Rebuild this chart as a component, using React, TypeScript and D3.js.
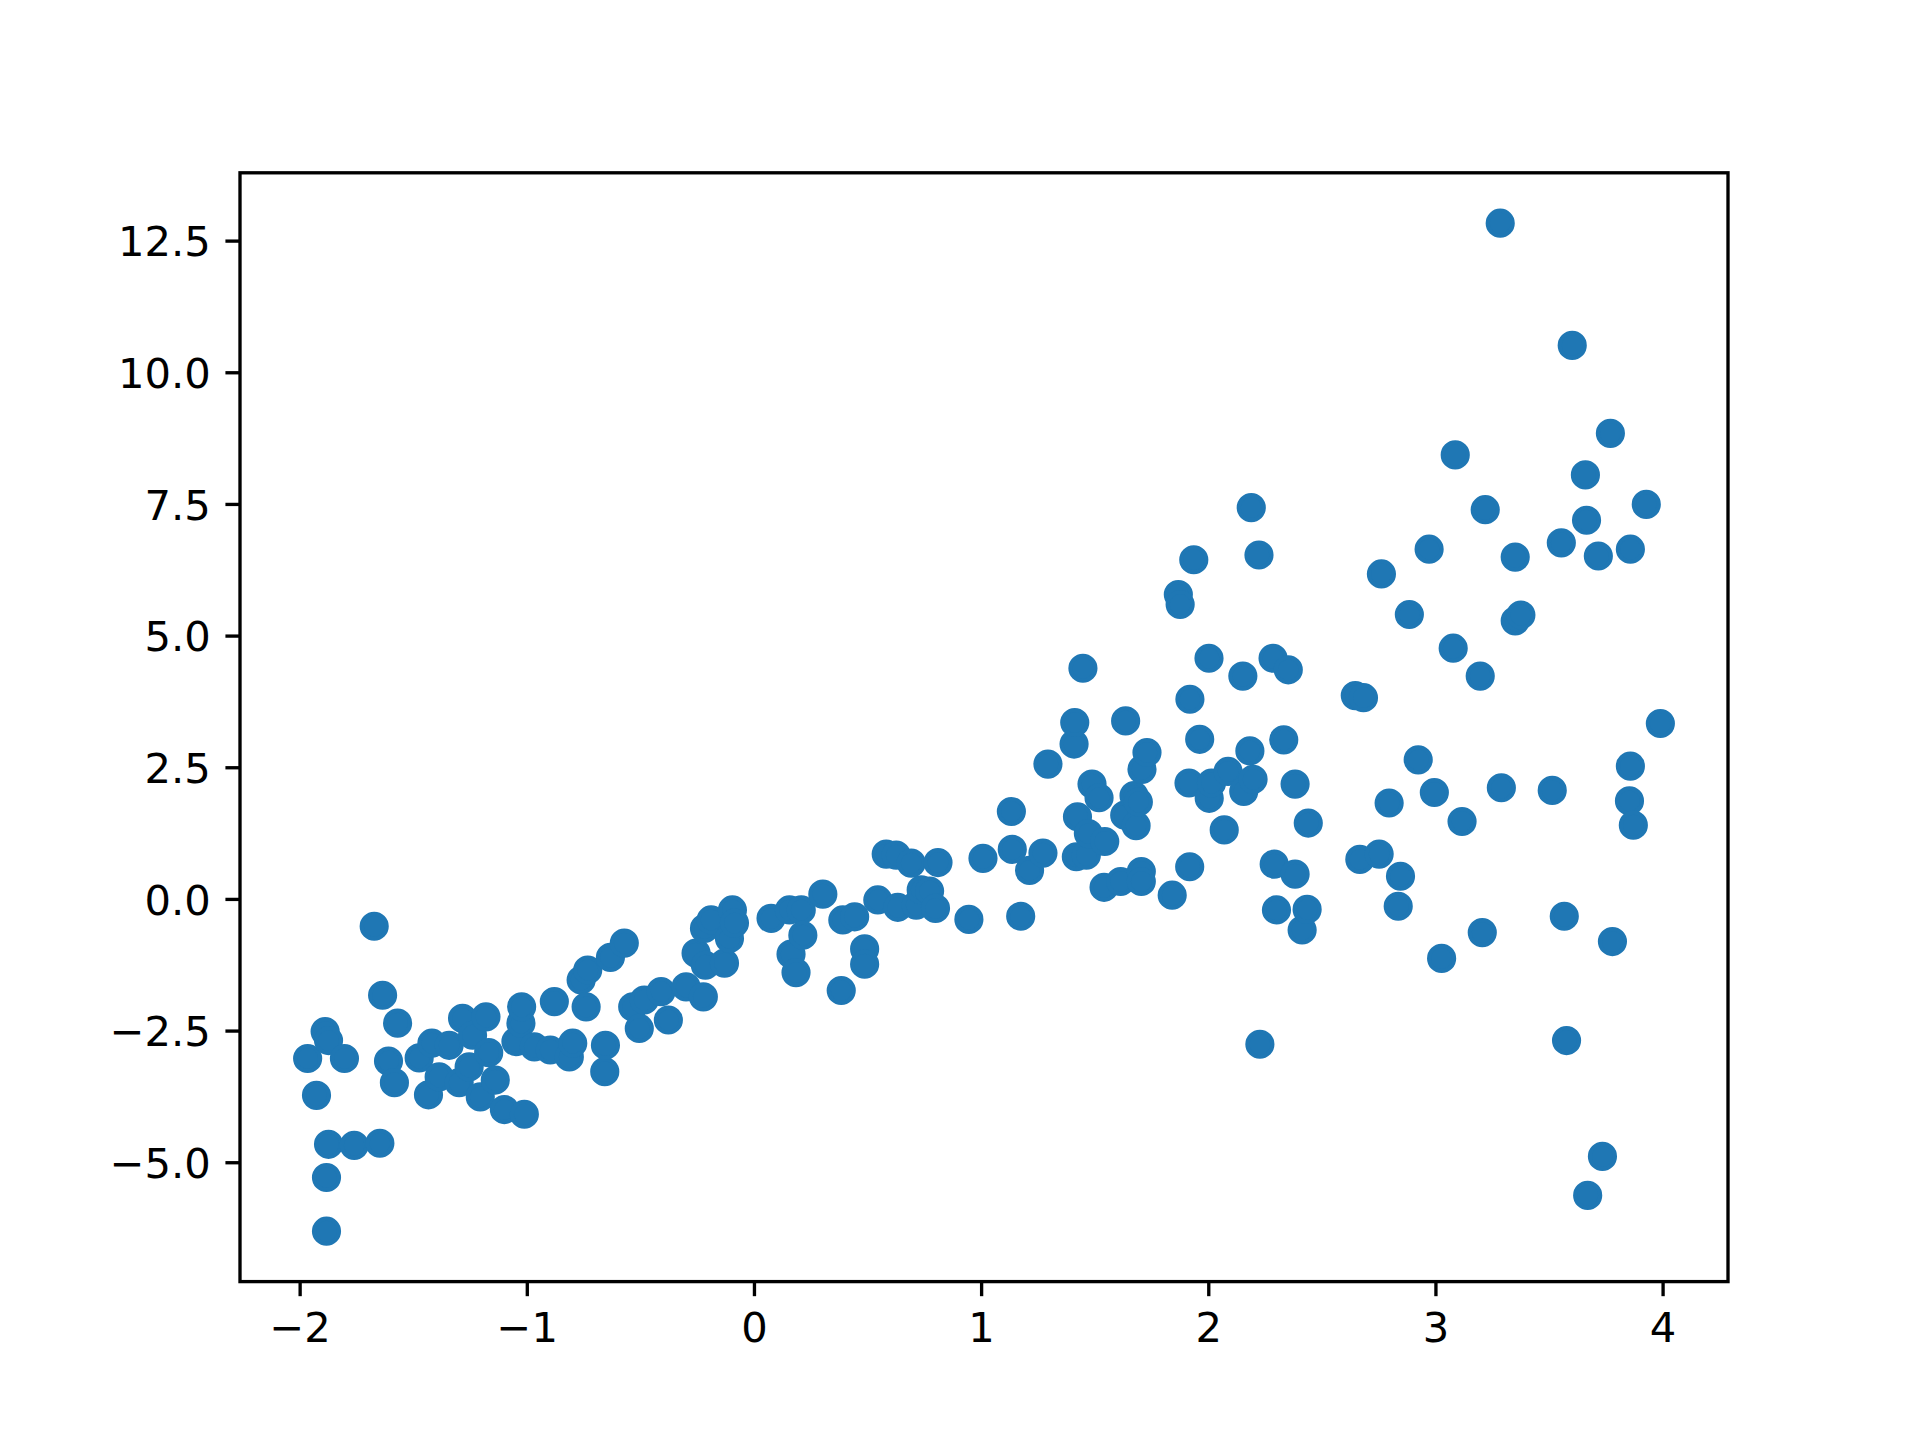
import React, { useEffect } from "react";
import * as d3 from "d3";

// values
const xs = [
  -1.967, -1.928, -1.890, -1.875, -1.875, -1.884, -1.884, -1.805, -1.762, -1.674,
  -1.649, -1.637, -1.611, -1.585, -1.571, -1.476, -1.435, -1.420, -1.388, -1.344,
  -1.300, -1.285, -1.256, -1.241, -1.207, -1.182, -1.170, -1.141, -1.101, -1.050,
  -1.028, -1.025, -1.013, -0.969, -0.899, -0.881, -0.815, -0.800, -0.763, -0.741,
  -0.734, -0.659, -0.656, -0.634, -0.573, -0.536, -0.507, -0.485, -0.411, -0.379,
  -0.301, -0.257, -0.225, -0.220, -0.216, -0.191, -0.132, -0.110, -0.097, -0.088,
  0.073, 0.154, 0.161, 0.183, 0.206, 0.213, 0.301, 0.382, 0.389, 0.441,
  0.485, 0.485, 0.543, 0.580, 0.624, 0.631, 0.690, 0.712, 0.734, 0.771,
  0.797, 0.808, 0.944, 1.006, 1.131, 1.135, 1.172, 1.211, 1.270, 1.292,
  1.407, 1.410, 1.417, 1.422, 1.446, 1.461, 1.470, 1.486, 1.517, 1.539,
  1.542, 1.612, 1.630, 1.634, 1.671, 1.680, 1.690, 1.703, 1.703, 1.706,
  1.728, 1.839, 1.866, 1.874, 1.913, 1.916, 1.917, 1.934, 1.960, 2.001,
  2.002, 2.012, 2.068, 2.085, 2.150, 2.154, 2.181, 2.187, 2.195, 2.221,
  2.225, 2.283, 2.288, 2.298, 2.330, 2.350, 2.380, 2.380, 2.411, 2.433,
  2.438, 2.645, 2.681, 2.665, 2.750, 2.760, 2.794, 2.834, 2.844, 2.883,
  2.922, 2.970, 2.993, 3.025, 3.076, 3.085, 3.115, 3.195, 3.204, 3.217,
  3.283, 3.288, 3.349, 3.374, 3.349, 3.512, 3.552, 3.565, 3.575, 3.600,
  3.658, 3.663, 3.668, 3.715, 3.733, 3.768, 3.777, 3.856, 3.856, 3.852,
  3.869, 3.926, 3.988,
];
const ys = [
  -3.02, -3.72, -2.51, -2.68, -4.65, -5.28, -6.30, -3.02, -4.67, -0.51,
  -4.63, -1.82, -3.07, -3.48, -2.35, -3.01, -3.71, -2.73, -3.37, -2.77,
  -3.48, -2.26, -3.18, -2.58, -3.75, -2.23, -2.91, -3.43, -3.99, -2.70,
  -2.35, -2.04, -4.08, -2.80, -2.86, -1.94, -2.99, -2.73, -1.53, -2.04,
  -1.34, -3.27, -2.77, -1.10, -0.83, -2.04, -2.45, -1.91, -1.75, -2.29,
  -1.66, -1.02, -1.85, -0.55, -1.25, -0.39, -1.21, -0.74, -0.20, -0.45,
  -0.36, -0.20, -1.04, -1.39, -0.20, -0.68, 0.10, -1.73, -0.39, -0.33,
  -0.94, -1.23, -0.01, 0.86, 0.84, -0.15, 0.69, -0.11, 0.18, 0.16,
  -0.17, 0.70, -0.38, 0.78, 1.67, 0.95, -0.32, 0.55, 0.88, 2.57,
  2.95, 3.36, 0.81, 1.57, 4.39, 0.84, 1.25, 2.19, 1.93, 0.23,
  1.10, 0.34, 1.60, 3.39, 1.97, 1.40, 1.85, 0.53, 0.34, 2.47,
  2.79, 0.08, 5.79, 5.60, 2.21, 0.62, 3.80, 6.45, 3.04, 4.58,
  1.92, 2.21, 1.32, 2.43, 4.24, 2.05, 2.82, 7.44, 2.28, 6.54,
  -2.75, 4.58, 0.67, -0.20, 3.03, 4.36, 2.19, 0.48, -0.58, -0.19,
  1.45, 3.87, 3.83, 0.76, 0.86, 6.18, 1.83, -0.13, 0.44, 5.41,
  2.65, 6.65, 2.03, -1.12, 4.77, 8.44, 1.48, 4.24, -0.63, 7.40,
  12.84, 2.12, 5.29, 5.40, 6.50, 2.07, 6.77, -0.32, -2.68, 10.52,
  8.06, 7.20, -5.62, 6.52, -4.88, 8.85, -0.80, 6.65, 2.53, 1.87,
  1.41, 7.50, 3.34,
];

const xTicks = [-2, -1, 0, 1, 2, 3, 4];
const yTicks = [-5, -2.5, 0, 2.5, 5, 7.5, 10, 12.5];

const W = 1920;
const H = 1440;
const px = 300 / 72; // points -> pixels at 300 dpi

export default function App() {
  useEffect(() => {
    document.body.style.margin = "0";
  }, []);

  const left = 0.125 * W, right = 0.9 * W;
  const top = (1 - 0.88) * H, bottom = (1 - 0.11) * H;

  // matplotlib style 5% padding around the data
  const [x0, x1] = d3.extent(xs) as [number, number];
  const [y0, y1] = d3.extent(ys) as [number, number];
  const xPad = (x1 - x0) * 0.05, yPad = (y1 - y0) * 0.05;

  const x = d3.scaleLinear().domain([x0 - xPad, x1 + xPad]).range([left, right]);
  const y = d3.scaleLinear().domain([y0 - yPad, y1 + yPad]).range([bottom, top]);

  const fmtX = d3.format("d");
  const fmtY = d3.format(".1f");

  const lw = 0.8 * px;
  const tickLen = 3.5 * px;
  const pad = 3.5 * px;
  const fontSize = 10 * px;
  const color = "#1f77b4";

  return (
    <svg width={W} height={H} style={{ display: "block", background: "#fff" }}
      fontFamily="'DejaVu Sans', sans-serif">
      <rect x={0} y={0} width={W} height={H} fill="#fff" />
      <g>
        {xs.map((d, i) => (
          <circle key={i} cx={x(d)} cy={y(ys[i])} r={3 * px}
            fill={color} stroke={color} strokeWidth={1 * px} />
        ))}
      </g>

      {/* x ticks */}
      <g>
        {xTicks.map(t => (
          <g key={t} transform={`translate(${x(t)},${bottom})`}>
            <line y1={0} y2={tickLen} stroke="#000" strokeWidth={lw} />
            <text y={tickLen + pad + fontSize * 0.76} textAnchor="middle"
              fontSize={fontSize} fill="#000">{fmtX(t)}</text>
          </g>
        ))}
      </g>

      {/* y ticks */}
      <g>
        {yTicks.map(t => (
          <g key={t} transform={`translate(${left},${y(t)})`}>
            <line x1={0} x2={-tickLen} stroke="#000" strokeWidth={lw} />
            <text x={-tickLen - pad} y={fontSize * 0.365} textAnchor="end"
              fontSize={fontSize} fill="#000">{fmtY(t)}</text>
          </g>
        ))}
      </g>

      <rect x={left} y={top} width={right - left} height={bottom - top}
        fill="none" stroke="#000" strokeWidth={lw} />
    </svg>
  );
}
